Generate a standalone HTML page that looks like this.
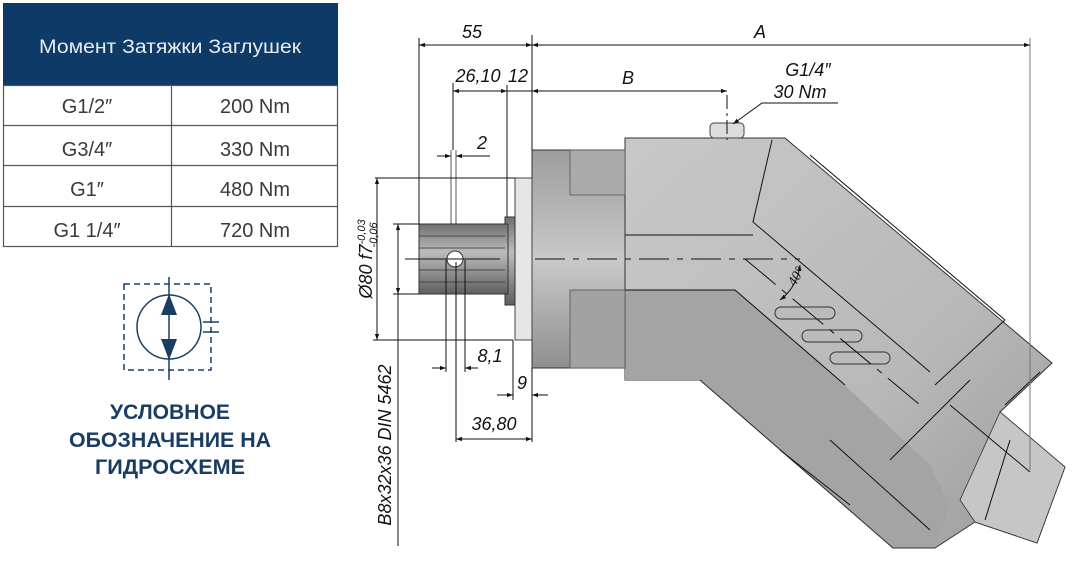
<!DOCTYPE html>
<html><head><meta charset="utf-8"><style>
html,body{margin:0;padding:0;background:#fff;}
svg{display:block}
.d{font-family:"Liberation Sans",sans-serif;font-style:italic;font-size:18px;fill:#111}
.t{font-family:"Liberation Sans","Noto Sans CJK SC",sans-serif;font-size:19px;fill:#3a3a3a}
.l{stroke:#111;stroke-width:1;fill:none}
</style></head><body>
<svg width="1076" height="583" viewBox="0 0 1076 583" xmlns="http://www.w3.org/2000/svg">
<defs>
<marker id="a" viewBox="0 0 10 10" refX="10" refY="5" markerWidth="10" markerHeight="6" orient="auto-start-reverse" markerUnits="userSpaceOnUse"><path d="M0,1.5L10,5L0,8.5Z" fill="#111"/></marker>
<linearGradient id="g1" x1="0" y1="0" x2="0" y2="1"><stop offset="0" stop-color="#9d9d9d"/><stop offset=".5" stop-color="#c9c9c9"/><stop offset="1" stop-color="#8f8f8f"/></linearGradient>
<linearGradient id="g2" x1="0" y1="0" x2="1" y2="1"><stop offset="0" stop-color="#c8c8c8"/><stop offset=".6" stop-color="#b8b8b8"/><stop offset="1" stop-color="#9a9a9a"/></linearGradient>
<linearGradient id="g3" x1="0" y1="0" x2="0" y2="1"><stop offset="0" stop-color="#6f6f6f"/><stop offset=".4" stop-color="#bcbcbc"/><stop offset="1" stop-color="#5f5f5f"/></linearGradient>
</defs>
<!-- table -->
<rect x="3" y="3" width="335" height="82" fill="#0d3a66"/>
<text x="170" y="53" text-anchor="middle" class="t" style="fill:#e8ecf2" textLength="262" lengthAdjust="spacingAndGlyphs">Момент Затяжки Заглушек</text>
<g stroke="#555" stroke-width="1.2" fill="none">
<rect x="3.5" y="85.5" width="334" height="161"/>
<line x1="3" y1="125.5" x2="338" y2="125.5"/><line x1="3" y1="165.5" x2="338" y2="165.5"/><line x1="3" y1="206.5" x2="338" y2="206.5"/>
<line x1="171.5" y1="85" x2="171.5" y2="247"/></g>
<g class="t" text-anchor="middle" style="font-size:20px">
<text x="87" y="113">G1/2″</text><text x="255" y="113">200 Nm</text>
<text x="87" y="156">G3/4″</text><text x="255" y="156">330 Nm</text>
<text x="87" y="196">G1″</text><text x="255" y="196">480 Nm</text>
<text x="87" y="237">G1 1/4″</text><text x="255" y="237">720 Nm</text></g>
<!-- symbol -->
<g stroke="#1b3d63" stroke-width="1.5" fill="none">
<rect x="124" y="284" width="87" height="86" stroke-dasharray="6,4"/>
<circle cx="169" cy="327" r="32"/>
<line x1="169" y1="277" x2="169" y2="380"/>
<line x1="203" y1="322" x2="219" y2="322"/><line x1="203" y1="332" x2="219" y2="332"/></g>
<path d="M169,294L161,315L177,315Z M169,360L161,339L177,339Z" fill="#1b3d63"/>
<g font-family="Liberation Sans,sans-serif" font-size="21" font-weight="bold" fill="#1b3d63" text-anchor="middle">
<text x="170" y="419" textLength="120" lengthAdjust="spacingAndGlyphs">УСЛОВНОЕ</text><text x="170" y="447" textLength="202" lengthAdjust="spacingAndGlyphs">ОБОЗНАЧЕНИЕ НА</text><text x="170" y="474" textLength="150" lengthAdjust="spacingAndGlyphs">ГИДРОСХЕМЕ</text></g>
<!-- motor -->
<path d="M625,138L785,138L1052,363L1000,412L1065,467L1037,543L975,522L935,548L893,548L700,380L625,380Z" fill="url(#g2)" stroke="#333" stroke-width="1"/>
<path d="M625,290L735,290L850,390L930,465L950,505L935,548L893,548L700,380L625,380Z" fill="#a4a4a4"/>
<path d="M1000,412L1065,467L1037,543L975,522L960,500Z" fill="#c6c6c6" stroke="#333" stroke-width=".8"/>
<path d="M935,548L893,548L700,380" fill="none" stroke="#333"/>
<g class="l" stroke="#333" stroke-width=".8">
<path d="M772,140L753,222L930,372"/><path d="M625,235L753,235"/><path d="M625,290L735,290L845,385"/>
<path d="M810,155L1005,320"/><path d="M1005,320L935,385"/><path d="M950,405L1030,472"/><path d="M970,380L890,460"/>
<path d="M830,440L930,530"/><path d="M780,450L850,505"/><path d="M1040,372L1005,405"/><path d="M1010,440L985,520"/>
</g>
<g fill="#bbb" stroke="#333" stroke-width="1">
<rect x="775" y="307" width="60" height="12" rx="6"/><rect x="802" y="330" width="60" height="12" rx="6"/><rect x="830" y="352" width="60" height="12" rx="6"/></g>
<rect x="532" y="150" width="93" height="218" fill="url(#g1)" stroke="#333"/>
<rect x="570" y="150" width="55" height="45" fill="#aaa" stroke="#555" stroke-width=".8"/>
<rect x="570" y="290" width="55" height="78" fill="#a2a2a2" stroke="#555" stroke-width=".8"/>
<rect x="515" y="178" width="17" height="162" fill="#e6e6e6" stroke="#444"/>
<rect x="505" y="217" width="10" height="88" fill="url(#g3)" stroke="#333"/>
<rect x="419" y="224" width="89" height="70" fill="url(#g3)" stroke="#333"/>
<g stroke="#333" stroke-width=".8"><line x1="419" y1="236" x2="505" y2="236"/><line x1="419" y1="248" x2="505" y2="248"/><line x1="419" y1="270" x2="505" y2="270"/><line x1="419" y1="282" x2="505" y2="282"/></g>
<circle cx="455" cy="259" r="8" fill="#fff" stroke="#333"/>
<rect x="710" y="123" width="34" height="15" rx="4" fill="#ddd" stroke="#444"/>
<!-- center lines -->
<g stroke="#111" stroke-width="1"><line x1="405" y1="259" x2="500" y2="259"/><line x1="535" y1="259" x2="800" y2="259" stroke-dasharray="30,8,6,8"/>
<line x1="745" y1="259" x2="920" y2="405" stroke-dasharray="40,8,6,8"/><line x1="727" y1="95" x2="727" y2="140" stroke-dasharray="14,4,3,4"/></g>
<path d="M800,265A50,50 0 0 1 780,300" class="l" marker-start="url(#a)" marker-end="url(#a)"/>
<text x="795" y="287" class="d" style="font-family:'Liberation Serif',serif;font-size:14px" transform="rotate(-60 795 287)">40°</text>
<!-- dims -->
<g class="l">
<line x1="532" y1="35" x2="532" y2="150"/><line x1="1030" y1="38" x2="1030" y2="470" stroke="#777"/>
<line x1="419" y1="38" x2="419" y2="224"/>
<line x1="453" y1="83" x2="453" y2="150"/><line x1="507" y1="85" x2="507" y2="217"/>
<line x1="451" y1="150" x2="451" y2="224" stroke-width=".7"/><line x1="456" y1="150" x2="456" y2="224" stroke-width=".7"/>
<line x1="375" y1="178" x2="515" y2="178"/><line x1="373" y1="340" x2="513" y2="340"/>
<line x1="393" y1="224" x2="420" y2="224"/><line x1="393" y1="294" x2="420" y2="294"/>
<line x1="398" y1="294" x2="398" y2="546"/>
<line x1="446" y1="260" x2="446" y2="372"/><line x1="465" y1="260" x2="465" y2="372"/>
<line x1="513" y1="340" x2="513" y2="400"/><line x1="456" y1="262" x2="456" y2="442"/><line x1="532" y1="368" x2="532" y2="442"/>
<line x1="419" y1="45" x2="532" y2="45" marker-start="url(#a)" marker-end="url(#a)"/>
<line x1="532" y1="45" x2="1030" y2="45" marker-start="url(#a)" marker-end="url(#a)"/>
<line x1="453" y1="91" x2="507" y2="91" marker-start="url(#a)" marker-end="url(#a)"/>
<line x1="507" y1="91" x2="532" y2="91"/>
<line x1="532" y1="91" x2="727" y2="91" marker-start="url(#a)" marker-end="url(#a)"/>
<line x1="437" y1="156" x2="451" y2="156" marker-end="url(#a)"/><line x1="490" y1="156" x2="456" y2="156" marker-end="url(#a)"/>
<line x1="377" y1="178" x2="377" y2="340" marker-start="url(#a)" marker-end="url(#a)"/>
<line x1="398" y1="224" x2="398" y2="294" marker-start="url(#a)" marker-end="url(#a)"/>
<line x1="432" y1="368" x2="446" y2="368" marker-end="url(#a)"/><line x1="478" y1="368" x2="465" y2="368" marker-end="url(#a)"/>
<line x1="497" y1="395" x2="513" y2="395" marker-end="url(#a)"/><line x1="548" y1="395" x2="532" y2="395" marker-end="url(#a)"/>
<line x1="532" y1="368" x2="532" y2="400"/>
<line x1="456" y1="439" x2="532" y2="439" marker-start="url(#a)" marker-end="url(#a)"/>
<polyline points="838,103 762,103 733,124" marker-end="url(#a)"/>
</g>
<text x="472" y="38" class="d" text-anchor="middle">55</text>
<text x="760" y="38" class="d" text-anchor="middle">A</text>
<text x="478" y="82" class="d" text-anchor="middle">26,10</text>
<text x="518" y="82" class="d" text-anchor="middle">12</text>
<text x="628" y="84" class="d" text-anchor="middle">B</text>
<text x="808" y="76" class="d" text-anchor="middle">G1/4″</text>
<text x="800" y="98" class="d" text-anchor="middle">30 Nm</text>
<text x="482" y="149" class="d" text-anchor="middle">2</text>
<text x="490" y="362" class="d" text-anchor="middle">8,1</text>
<text x="522" y="389" class="d" text-anchor="middle">9</text>
<text x="494" y="430" class="d" text-anchor="middle">36,80</text>
<text x="372" y="259" class="d" text-anchor="middle" transform="rotate(-90 372 259)">Ø80 f7<tspan font-size="11" dy="-7">-0,03</tspan><tspan font-size="11" dx="-28" dy="12">-0,06</tspan></text>
<text x="391" y="445" class="d" text-anchor="middle" transform="rotate(-90 391 445)">B8x32x36 DIN 5462</text>
</svg>
</body></html>
